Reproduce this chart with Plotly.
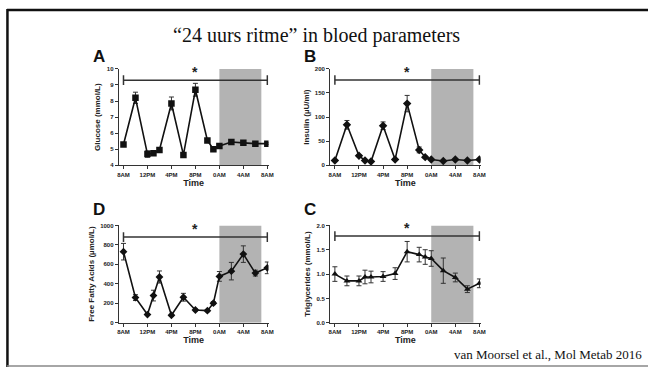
import plotly.graph_objects as go

hours = [0, 2, 4, 5, 6, 8, 10, 12, 14, 15, 16, 18, 20, 22, 24]
tick_vals = [0, 4, 8, 12, 16, 20, 24]
tick_text = ["8AM", "12PM", "4PM", "8PM", "0AM", "4AM", "8AM"]
night_start, night_end = 16, 23

glucose = [5.3, 8.2, 4.7, 4.75, 4.95, 7.85, 4.65, 8.7, 5.55, 5.0, 5.2, 5.45, 5.4, 5.35, 5.35]
glucose_err = [0.12, 0.35, 0.2, 0.06, 0.06, 0.4, 0.06, 0.4, 0.1, 0.06, 0.06, 0.06, 0.05, 0.05, 0.05]
insulin = [10, 84, 20, 10, 8, 82, 12, 128, 32, 17, 12, 9, 12, 10, 12]
insulin_err = [2, 9, 2, 1, 1, 8, 2, 17, 6, 2, 1, 1, 1, 1, 1]
ffa = [730, 258, 84, 279, 470, 77, 262, 131, 124, 201, 476, 530, 705, 510, 564]
ffa_err = [85, 30, 10, 55, 62, 10, 40, 10, 10, 15, 50, 90, 85, 30, 60]
tg = [1.0, 0.86, 0.86, 0.94, 0.94, 0.95, 1.01, 1.46, 1.40, 1.35, 1.32, 1.07, 0.93, 0.69, 0.81]
tg_err = [0.15, 0.1, 0.1, 0.14, 0.12, 0.1, 0.12, 0.21, 0.15, 0.15, 0.16, 0.26, 0.09, 0.07, 0.09]

W, H = 653, 370
panels = [
    dict(letter="A", y=glucose, e=glucose_err, yr=[4, 10], dt=1, title="Glucose (mmol/L)",
         sym="square", size=6.5, bar=9.3, cap=0.3, xd=[0.1819, 0.4135], yd=[0.554, 0.819], lgap=1),
    dict(letter="B", y=insulin, e=insulin_err, yr=[0, 200], dt=50, title="Insulin (µU/ml)",
         sym="diamond", size=6.5, bar=177, cap=10, xd=[0.5086, 0.7413], yd=[0.554, 0.819], lgap=1),
    dict(letter="D", y=ffa, e=ffa_err, yr=[0, 1000], dt=200, title="Free Fatty Acids (µmol/L)",
         sym="diamond", size=6, bar=880, cap=50, xd=[0.1819, 0.4135], yd=[0.1216, 0.389], lgap=4),
    dict(letter="C", y=tg, e=tg_err, yr=[0, 2.0], dt=0.5, title="Triglycerides (mmol/L)",
         sym="triangle-up", size=6, bar=1.78, cap=0.1, xd=[0.5086, 0.7413], yd=[0.1216, 0.389], lgap=4),
]

fig = go.Figure()
tick_font = dict(family="Liberation Sans", size=6, color="#222")
title_font = dict(family="Liberation Sans", size=8, color="#222")

for i, p in enumerate(panels, start=1):
    xa = "x" if i == 1 else f"x{i}"
    ya = "y" if i == 1 else f"y{i}"
    fig.add_trace(go.Scatter(
        x=[night_start, night_end, night_end, night_start, night_start],
        y=[p["yr"][0], p["yr"][0], p["yr"][1], p["yr"][1], p["yr"][0]],
        fill="toself", fillcolor="#b3b3b3", line=dict(width=0), mode="lines",
        hoverinfo="skip", showlegend=False, xaxis=xa, yaxis=ya))
    fig.add_trace(go.Scatter(
        x=[0, 24], y=[p["bar"], p["bar"]], mode="lines",
        line=dict(color="#333", width=1.5),
        error_y=dict(type="constant", value=p["cap"], width=0, color="#333", thickness=1.5),
        showlegend=False, hoverinfo="skip", xaxis=xa, yaxis=ya))
    fig.add_trace(go.Scatter(
        x=hours, y=p["y"], mode="lines+markers",
        line=dict(color="#111", width=1.6),
        marker=dict(symbol=p["sym"], size=p["size"], color="#111"),
        error_y=dict(type="data", array=p["e"], width=2.5, color="#333", thickness=1),
        showlegend=False, xaxis=xa, yaxis=ya))
    fig.update_layout(**{
        ("xaxis" if i == 1 else f"xaxis{i}"): dict(
            domain=p["xd"], anchor=ya, range=[-0.8, 24.2],
            tickvals=tick_vals, ticktext=[f"<b>{t}</b>" for t in tick_text], tickfont=tick_font,
            ticks="outside", ticklen=3, tickcolor="#333", showline=True, linecolor="#333",
            linewidth=1, showgrid=False, zeroline=False,
            title=dict(text="<b>Time</b>", font=dict(family="Liberation Sans", size=9, color="#222"),
                       standoff=2)),
        ("yaxis" if i == 1 else f"yaxis{i}"): dict(
            domain=p["yd"], anchor=xa, range=p["yr"], dtick=p["dt"],
            tickfont=tick_font, tickprefix="<b>", ticksuffix="</b>",
            ticks="outside", ticklen=3, tickcolor="#333",
            showline=True, linecolor="#333", linewidth=1, showgrid=False, zeroline=False,
            tickformat=".1f" if p["dt"] < 1 else None,
            title=dict(text=f"<b>{p['title']}</b>", font=title_font, standoff=4)),
    })
    fig.add_annotation(x=12, y=p["bar"], xref=xa, yref=ya, text="<b>*</b>", showarrow=False,
                       yshift=8, font=dict(family="Liberation Sans", size=14, color="#222"))
    fig.add_annotation(x=p["xd"][0] - 12 / W, y=p["yd"][1] + p["lgap"] / H, xref="paper", yref="paper",
                       text=f"<b>{p['letter']}</b>", showarrow=False, xanchor="right", yanchor="bottom",
                       font=dict(family="Liberation Sans", size=17, color="#111"))

fig.add_annotation(x=318 / W, y=1 - 33 / H, xref="paper", yref="paper",
                   xanchor="center", yanchor="middle",
                   text="“24 uurs ritme” in bloed parameters", showarrow=False,
                   font=dict(family="Liberation Serif", size=20, color="#111"))
fig.add_annotation(x=649 / W, y=1 - 357 / H, xref="paper", yref="paper", xanchor="right", yanchor="middle",
                   text="van Moorsel et al., Mol Metab 2016", showarrow=False,
                   font=dict(family="Liberation Serif", size=13, color="#111"))

fig.add_shape(type="line", xref="paper", yref="paper", x0=6 / W, x1=1, y0=1 - 7 / H, y1=1 - 7 / H,
              line=dict(color="#111", width=2.5))
fig.add_shape(type="line", xref="paper", yref="paper", x0=6.5 / W, x1=6.5 / W, y0=0, y1=1 - 6 / H,
              line=dict(color="#111", width=2.5))
fig.add_shape(type="line", xref="paper", yref="paper", x0=6 / W, x1=1, y0=1 / H, y1=1 / H,
              line=dict(color="#888", width=1.5))

fig.update_layout(width=W, height=H, margin=dict(l=0, r=0, t=0, b=0),
                  plot_bgcolor="white", paper_bgcolor="white", showlegend=False)

fig.write_html("out.html", config={"displayModeBar": False},
               post_script="document.body.style.margin='0';document.body.style.overflow='hidden';")
